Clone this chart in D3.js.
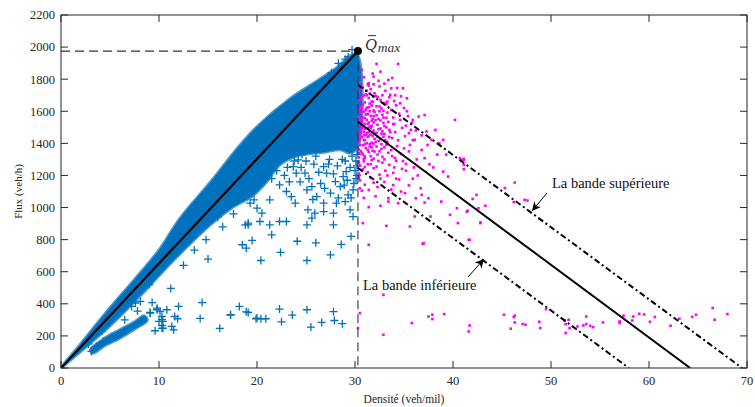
<!DOCTYPE html>
<html>
<head>
<meta charset="utf-8">
<script src="https://cdn.jsdelivr.net/npm/d3@7"></script>
<style>
body { margin: 0; background: #fff; }
svg { display: block; font-family: "Liberation Serif", "Times New Roman", serif; }
</style>
</head>
<body>
<div id="chart"></div>
<script>
'use strict';

// axis ticks
let xTicks = [0, 10, 20, 30, 40, 50, 60, 70];
let yTicks = [0, 200, 400, 600, 800, 1000, 1200, 1400, 1600, 1800, 2000, 2200];

// outline of the dense free-flow cloud
let freeFlowUpperEdge = [[0, 0], [2, 150], [5, 375], [10, 735], [12.1, 930], [15.4, 1170], [18, 1370],
    [20.1, 1510], [23.4, 1680], [26.4, 1800], [28.1, 1870], [29.8, 1955], [30.3, 1945]];
let freeFlowLowerEdge = [[30.3, 1380], [29.5, 1340], [28.5, 1360], [26.8, 1345], [24, 1320], [22.3, 1265],
    [21, 1160], [19.5, 1070], [17.5, 1000], [15.2, 890], [11.8, 690], [10, 575], [8.4, 470], [5, 262], [0.6, 30]];
// lower branch around 100-330 veh/h
let lowBranchUpperEdge = [[3.0, 112], [4.5, 188], [6, 238], [7.5, 288], [8.5, 325]];
let lowBranchLowerEdge = [[8.8, 298], [7.5, 242], [6, 186], [4.5, 140], [3.2, 92]];

// scattered free-flow measurements (blue +)
let freeFlowPoints = [
    [15.0, 679], [20.4, 670], [25.1, 670], [11.2, 496], [14.4, 408], [9.3, 408], [12.0, 384], [18.2, 384],
    [18.9, 350], [22.3, 367], [25.1, 363], [27.8, 351], [17.3, 330], [23.6, 330], [14.2, 309], [19.9, 307],
    [20.4, 307], [20.9, 307], [22.5, 288], [27.9, 296], [26.6, 284], [28.7, 276], [25.5, 255], [16.2, 247],
    [11.5, 238], [10.3, 247], [9.6, 232], [9.1, 346], [9.8, 363], [10.8, 363], [10.3, 321], [11.6, 321],
    [11.9, 307], [10.0, 290], [10.4, 290], [10.3, 265], [18.8, 892], [19.1, 903], [18.5, 768], [19.5, 795],
    [18.9, 747], [19.7, 1048], [17.3, 332], [19.1, 346], [20.0, 311], [11.3, 259], [10.1, 352], [9.8, 373],
    [10.3, 301], [10.4, 249], [9.1, 342], [7.6, 405], [8.1, 415], [7.2, 384], [3.1, 103], [3.6, 134],
    [4.3, 166], [8.4, 498], [9.0, 520], [19.1, 892], [20.5, 965], [21.3, 1048], [19.3, 1027], [22.3, 1141],
    [23.0, 1100], [23.9, 1027], [23.5, 1068], [23.0, 913], [24.2, 1297], [24.9, 1214], [25.1, 1110],
    [25.6, 1131], [26.1, 1068], [26.8, 1027], [25.9, 965], [25.6, 934], [25.2, 986], [27.8, 965],
    [28.1, 1027], [29.0, 1037], [29.3, 1079], [29.8, 1110], [29.5, 986], [29.8, 944], [27.8, 892],
    [26.8, 975], [24.0, 1214], [23.7, 1255], [26.8, 1255], [27.1, 1214], [28.0, 1162], [28.5, 1131],
    [28.8, 1193], [29.1, 1224], [25.1, 892], [21.3, 892], [20.3, 913], [22.3, 913], [20.0, 996],
    [21.5, 830], [22.4, 720], [24.1, 790], [26.0, 780], [27.5, 705], [28.6, 770], [29.6, 820], [17.6, 960],
    [16.5, 880], [28.3, 1899], [29.0, 1925], [29.7, 1984], [29.3, 1940], [28.8, 1880], [27.6, 1840],
    [30.1, 1750], [30.2, 1700], [30.1, 1650], [30.2, 1600], [30.0, 1560], [30.2, 1520], [30.1, 1470],
    [30.2, 1420], [30.0, 1380], [30.2, 1330], [30.1, 1290], [30.2, 1260], [30.0, 1230], [30.2, 1200],
    [30.1, 1180], [12.5, 640], [13.6, 735], [14.8, 800], [16.0, 940], [21.0, 1210], [22.0, 1280],
    [25.0, 1290], [27.4, 1300], [29.0, 1290], [4.2, 230], [6.5, 300], [7.8, 355], [5.5, 330], [2.8, 150],
    [21.5, 1180], [22.0, 1230], [22.8, 1200], [23.3, 1160], [23.8, 1290], [24.5, 1250], [25.3, 1180],
    [25.8, 1270], [26.3, 1220], [26.5, 1150], [27.3, 1270], [27.8, 1210], [28.2, 1260], [28.7, 1300],
    [29.2, 1170], [29.5, 1250], [29.7, 1320], [29.9, 1150], [24.6, 1330], [26.0, 1320], [22.6, 1310],
    [23.1, 1250], [26.9, 1120], [27.5, 1090], [28.3, 1060], [29.6, 1060], [25.7, 1050], [24.4, 1160],
    [28.9, 1140], [17.0, 1110], [18.2, 1190], [20.6, 1240], [14.0, 960], [12.8, 800], [29.4, 1360],
    [27.0, 1370], [23.0, 1330]
];

// congested measurements (magenta dots)
let congestedPoints = [
    [30.7, 1857], [32.2, 1895], [34.4, 1895], [32.6, 1847], [31.9, 1816], [33.4, 1795], [34.9, 1743],
    [35.3, 1681], [31.4, 1775], [33.7, 1743],
    [30.5, 1780], [30.9, 1812], [31.3, 1768], [31.8, 1835], [32.4, 1790], [33.0, 1772], [33.8, 1808],
    [30.4, 1722], [30.8, 1748], [31.1, 1705], [31.6, 1738], [32.0, 1712], [32.5, 1755], [33.1, 1728],
    [33.6, 1702], [34.3, 1745], [31.4, 1760],
    [30.4, 1668], [30.7, 1690], [31.0, 1655], [31.4, 1682], [31.7, 1660], [32.1, 1695], [32.6, 1671],
    [33.0, 1652], [33.5, 1688], [34.0, 1664], [34.7, 1693], [30.9, 1698],
    [30.5, 1612], [30.8, 1640], [31.2, 1622], [31.5, 1648], [31.9, 1605], [32.2, 1631], [32.7, 1618],
    [33.2, 1644], [33.7, 1609], [34.2, 1637], [35.0, 1620], [30.6, 1628], [31.7, 1636], [32.9, 1603],
    [30.4, 1566], [30.6, 1590], [31.0, 1558], [31.3, 1582], [31.6, 1571], [32.0, 1596], [32.4, 1553],
    [32.8, 1578], [33.3, 1592], [33.9, 1561], [34.5, 1585], [35.4, 1570], [31.8, 1552], [30.9, 1598],
    [32.2, 1575],
    [30.4, 1512], [30.7, 1538], [31.0, 1521], [31.2, 1547], [31.5, 1505], [31.9, 1530], [32.3, 1516],
    [32.6, 1543], [33.0, 1508], [33.4, 1534], [34.0, 1521], [34.6, 1546], [35.2, 1510], [30.5, 1549],
    [31.7, 1541], [32.9, 1527],
    [30.4, 1462], [30.6, 1488], [30.9, 1471], [31.3, 1495], [31.6, 1455], [31.9, 1480], [32.2, 1466],
    [32.6, 1492], [33.0, 1458], [33.5, 1484], [34.1, 1470], [34.8, 1497], [35.5, 1463], [31.1, 1452],
    [32.8, 1475], [30.8, 1499],
    [30.4, 1412], [30.7, 1437], [31.0, 1420], [31.4, 1446], [31.7, 1404], [32.0, 1429], [32.4, 1415],
    [32.9, 1441], [33.3, 1408], [33.8, 1433], [34.4, 1419], [35.1, 1445], [30.5, 1448], [31.2, 1401],
    [32.6, 1427],
    [30.4, 1362], [30.8, 1388], [31.1, 1371], [31.5, 1396], [31.8, 1354], [32.2, 1380], [32.7, 1366],
    [33.2, 1391], [33.7, 1358], [34.3, 1383], [35.0, 1369], [30.6, 1351], [31.9, 1398], [33.0, 1375],
    [30.4, 1312], [30.7, 1338], [31.0, 1320], [31.4, 1346], [31.9, 1305], [32.3, 1330], [32.8, 1316],
    [33.4, 1341], [34.1, 1309], [34.7, 1334], [30.9, 1303], [32.0, 1349],
    [30.5, 1262], [30.9, 1288], [31.3, 1270], [31.7, 1296], [32.2, 1255], [32.8, 1280], [33.5, 1266],
    [34.2, 1291], [31.0, 1252], [35.2, 1272],
    [30.4, 1212], [30.8, 1238], [31.3, 1220], [31.9, 1246], [32.5, 1205], [33.1, 1230], [33.9, 1216],
    [34.8, 1241],
    [30.5, 1170], [31.0, 1142], [31.6, 1185], [32.3, 1128], [33.0, 1160], [33.7, 1112], [34.5, 1175],
    [30.7, 1105], [31.9, 1155], [35.5, 1138],
    [30.5, 1595], [30.8, 1560], [31.1, 1610], [31.4, 1530], [31.6, 1495], [31.2, 1465], [30.9, 1420],
    [31.5, 1380], [32.1, 1410], [31.8, 1447], [32.4, 1488], [32.1, 1545], [32.5, 1600], [31.4, 1625],
    [30.6, 1675], [31.2, 1700], [30.6, 1470], [30.5, 1390], [30.8, 1330], [31.6, 1320], [32.5, 1350],
    [31.3, 1440], [30.7, 1530], [31.8, 1660], [32.3, 1690], [32.9, 1560], [33.2, 1500], [33.5, 1440],
    [32.7, 1460], [31.0, 1490],
    [30.6, 1742], [31.2, 1728], [31.9, 1768], [32.8, 1700], [33.3, 1660], [34.1, 1700], [34.6, 1650],
    [35.3, 1600], [35.8, 1530], [36.2, 1480], [35.9, 1420], [35.5, 1350], [36.3, 1300], [34.9, 1290],
    [34.0, 1250], [33.3, 1200], [32.6, 1180], [31.4, 1110], [30.9, 1060], [32.1, 1070], [33.9, 1140],
    [34.7, 1100], [35.9, 1180], [36.7, 1120], [30.4, 1610], [30.4, 1540], [30.4, 1430], [30.4, 1340],
    [30.4, 1280], [30.4, 1190], [30.5, 1120], [31.1, 1580], [31.5, 1600], [31.9, 1570], [31.3, 1520],
    [31.7, 1510], [32.0, 1460], [31.4, 1470], [30.9, 1450], [31.0, 1395], [31.3, 1360], [31.7, 1375],
    [32.3, 1440], [32.7, 1395], [33.1, 1420], [33.6, 1470], [33.9, 1520], [33.2, 1560], [32.5, 1630],
    [31.9, 1690], [31.5, 1710], [30.7, 1620], [31.0, 1310], [31.6, 1270], [32.4, 1290], [33.0, 1300],
    [33.8, 1320], [35.6, 1390], [36.8, 1450], [37.4, 1390], [38.0, 1250], [38.6, 1400], [39.3, 1330],
    [35.2, 1230], [34.2, 1180],
    [40.2, 1546], [38.2, 1484], [37.8, 1422], [39.0, 1422], [40.7, 1308], [41.1, 1297], [39.0, 1224],
    [39.5, 1193], [36.8, 1359], [37.1, 1308], [36.1, 1422], [36.5, 1567], [37.1, 1577], [35.9, 1546],
    [35.7, 1484], [37.3, 1474], [36.0, 1250], [36.4, 1200], [37.6, 1270], [38.4, 1330],
    [30.8, 903], [31.4, 768], [33.2, 886], [31.4, 1002], [32.6, 1011], [33.4, 1037], [34.4, 1027],
    [33.4, 1058], [35.1, 1090], [36.2, 1058], [36.8, 1079], [37.5, 1058], [37.1, 1031], [36.1, 944],
    [35.6, 882], [37.7, 944], [38.8, 1037], [39.7, 955], [40.5, 903], [40.4, 996], [41.4, 975],
    [41.6, 799], [42.6, 996], [42.8, 903], [37.0, 778], [36.9, 774], [41.7, 799],
    [32.9, 456], [30.5, 342], [30.3, 249], [32.9, 207], [35.8, 280], [37.5, 321], [37.9, 332], [37.9, 305],
    [39.1, 336], [41.7, 265], [41.6, 228],
    [45.2, 332], [45.9, 245], [46.2, 318], [46.3, 326], [46.3, 284], [47.1, 274], [47.4, 270], [48.8, 288],
    [48.9, 249], [49.5, 367], [51.4, 296], [51.8, 301], [51.5, 274], [51.5, 218], [51.9, 249], [52.7, 259],
    [53.3, 265], [53.6, 274], [54.0, 263], [54.3, 255], [53.6, 321], [55.3, 284], [57.0, 280], [57.0, 290],
    [57.4, 326], [58.3, 296], [58.4, 321], [59.0, 338], [59.5, 334], [60.1, 288], [60.6, 318], [62.2, 263],
    [63.1, 307], [64.4, 318], [64.8, 332], [66.5, 374], [66.7, 301], [68.0, 336],
    [46.3, 1156], [45.3, 1121], [46.2, 1034], [47.3, 1048], [47.6, 1044], [42.4, 1079], [42.0, 1054],
    [43.3, 1011], [41.5, 979], [42.8, 907], [40.9, 1297], [41.1, 1303], [41.1, 1266], [41.1, 1239]
];

// fitted model
let qMax = [30.3, 1975];
let bandCenter = [[30.3, 1535], [64.2, 0]];
let bandUpper = [[30.3, 1764], [69.5, 0]];
let bandLower = [[30.3, 1247], [57.95, 0]];

let labelUpper = "La bande supérieure";
let labelLower = "La bande inférieure";

//------------------------------------------------------------
// layout
//------------------------------------------------------------
{ // start scope

let width = 755, height = 407;
let left = 61, right = 747, top = 15, bottom = 368;
let blue = "#0072BD", magenta = "#FF00FF", axisColor = "#262626";

let svg = d3.select("#chart").append("svg")
    .attr("width", width)
    .attr("height", height);

let x = d3.scaleLinear().domain([0, 70]).range([left, right]);
let y = d3.scaleLinear().domain([0, 2200]).range([bottom, top]);

let defs = svg.append("defs");
defs.append("clipPath").attr("id", "plotClip")
    .append("rect").attr("x", left).attr("y", top)
    .attr("width", right - left).attr("height", bottom - top);

defs.append("marker")
    .attr("id", "arrowHead")
    .attr("viewBox", "0 0 10 10")
    .attr("refX", 10).attr("refY", 5)
    .attr("markerWidth", 10).attr("markerHeight", 9)
    .attr("markerUnits", "userSpaceOnUse")
    .attr("orient", "auto")
    .append("path").attr("d", "M0,0 L10,5 L0,10 L3,5 z").attr("fill", "#000");

let plot = svg.append("g").attr("clip-path", "url(#plotClip)");
let line = d3.line().x(d => x(d[0])).y(d => y(d[1]));
let smoothLine = d3.line().x(d => x(d[0])).y(d => y(d[1])).curve(d3.curveCatmullRomClosed);

// dense cloud drawn as filled outlines
[freeFlowUpperEdge.concat(freeFlowLowerEdge), lowBranchUpperEdge.concat(lowBranchLowerEdge)].forEach(shape => {
    plot.append("path")
        .attr("d", smoothLine(shape))
        .attr("fill", blue)
        .attr("stroke", blue).attr("stroke-opacity", 0.7)
        .attr("stroke-width", 3).attr("stroke-linejoin", "round");
});

// + markers
plot.append("g").selectAll("path")
    .data(freeFlowPoints)
    .enter()
    .append("path")
    .attr("d", d => "M" + (x(d[0]) - 4) + "," + y(d[1]) + "h8M" + x(d[0]) + "," + (y(d[1]) - 4) + "v8")
    .attr("stroke", blue)
    .attr("stroke-width", 1.3)
    .attr("fill", "none");

// congested dots
plot.append("g").selectAll("rect")
    .data(congestedPoints)
    .enter()
    .append("rect")
    .attr("x", d => x(d[0]) - 1.3)
    .attr("y", d => y(d[1]) - 1.3)
    .attr("width", 2.6)
    .attr("height", 2.6)
    .attr("fill", magenta);

// dashed guides to Qmax
plot.append("path")
    .attr("d", line([[0, qMax[1]], qMax, [qMax[0], 0]]))
    .attr("fill", "none").attr("stroke", "#333").attr("stroke-width", 1.1)
    .attr("stroke-dasharray", "9,5");

// free-flow line and bands
plot.append("path").attr("d", line([[0, 0], qMax]))
    .attr("stroke", "#000").attr("stroke-width", 2.2).attr("fill", "none");
plot.append("path").attr("d", line(bandCenter))
    .attr("stroke", "#000").attr("stroke-width", 2).attr("fill", "none");
[bandUpper, bandLower].forEach(b => {
    plot.append("path").attr("d", line(b))
        .attr("stroke", "#000").attr("stroke-width", 2).attr("fill", "none")
        .attr("stroke-dasharray", "6,3,2,3");
});

svg.append("circle")
    .attr("cx", x(qMax[0])).attr("cy", y(qMax[1])).attr("r", 4)
    .attr("fill", "#000");

// Qmax label
let qx = x(qMax[0]) + 7, qy = y(qMax[1]) - 1;
let qLabel = svg.append("text")
    .attr("x", qx).attr("y", qy)
    .attr("fill", "#333").attr("font-style", "italic");
qLabel.append("tspan").attr("font-size", 16.5).text("Q");
qLabel.append("tspan").attr("font-size", 13.5).attr("dy", 2).attr("dx", 1).text("max");
svg.append("line")
    .attr("x1", qx + 3).attr("x2", qx + 11)
    .attr("y1", qy - 14.5).attr("y2", qy - 14.5)
    .attr("stroke", "#333").attr("stroke-width", 1);

// annotations
svg.append("text").attr("x", 552).attr("y", 188).attr("font-size", 14.5).attr("fill", "#111").text(labelUpper);
svg.append("text").attr("x", 363).attr("y", 290).attr("font-size", 14.5).attr("fill", "#111").text(labelLower);
svg.append("line").attr("x1", 547).attr("y1", 193).attr("x2", 532).attr("y2", 211)
    .attr("stroke", "#000").attr("stroke-width", 1).attr("marker-end", "url(#arrowHead)");
svg.append("line").attr("x1", 468).attr("y1", 277).attr("x2", 484).attr("y2", 259)
    .attr("stroke", "#000").attr("stroke-width", 1).attr("marker-end", "url(#arrowHead)");

//------------------------------------------------------------
// axes with box and inward ticks
//------------------------------------------------------------
let axisG = svg.append("g").attr("stroke", axisColor).attr("stroke-width", 1).attr("fill", "none");
axisG.append("rect").attr("x", left).attr("y", top)
    .attr("width", right - left).attr("height", bottom - top);

xTicks.forEach(t => {
    axisG.append("line").attr("x1", x(t)).attr("x2", x(t)).attr("y1", bottom).attr("y2", bottom - 7);
    axisG.append("line").attr("x1", x(t)).attr("x2", x(t)).attr("y1", top).attr("y2", top + 7);
});
yTicks.forEach(t => {
    axisG.append("line").attr("x1", left).attr("x2", left + 7).attr("y1", y(t)).attr("y2", y(t));
    axisG.append("line").attr("x1", right).attr("x2", right - 7).attr("y1", y(t)).attr("y2", y(t));
});

svg.append("g").selectAll("text")
    .data(xTicks).enter().append("text")
    .attr("x", d => x(d)).attr("y", bottom + 17)
    .attr("text-anchor", "middle").attr("font-size", 12.5).attr("fill", axisColor)
    .text(d => d);

svg.append("g").selectAll("text")
    .data(yTicks).enter().append("text")
    .attr("x", left - 6).attr("y", d => y(d)).attr("dy", "0.35em")
    .attr("text-anchor", "end").attr("font-size", 12.5).attr("fill", axisColor)
    .text(d => d);

svg.append("text")
    .attr("transform", "translate(22," + ((top + bottom) / 2) + ") rotate(-90)")
    .attr("text-anchor", "middle").attr("font-size", 11).attr("fill", axisColor)
    .text("Flux (veh/h)");

svg.append("text")
    .attr("x", (left + right) / 2).attr("y", 403)
    .attr("text-anchor", "middle").attr("font-size", 11.5).attr("fill", axisColor)
    .text("Densité (veh/mil)");

} // end scope
</script>
</body>
</html>
